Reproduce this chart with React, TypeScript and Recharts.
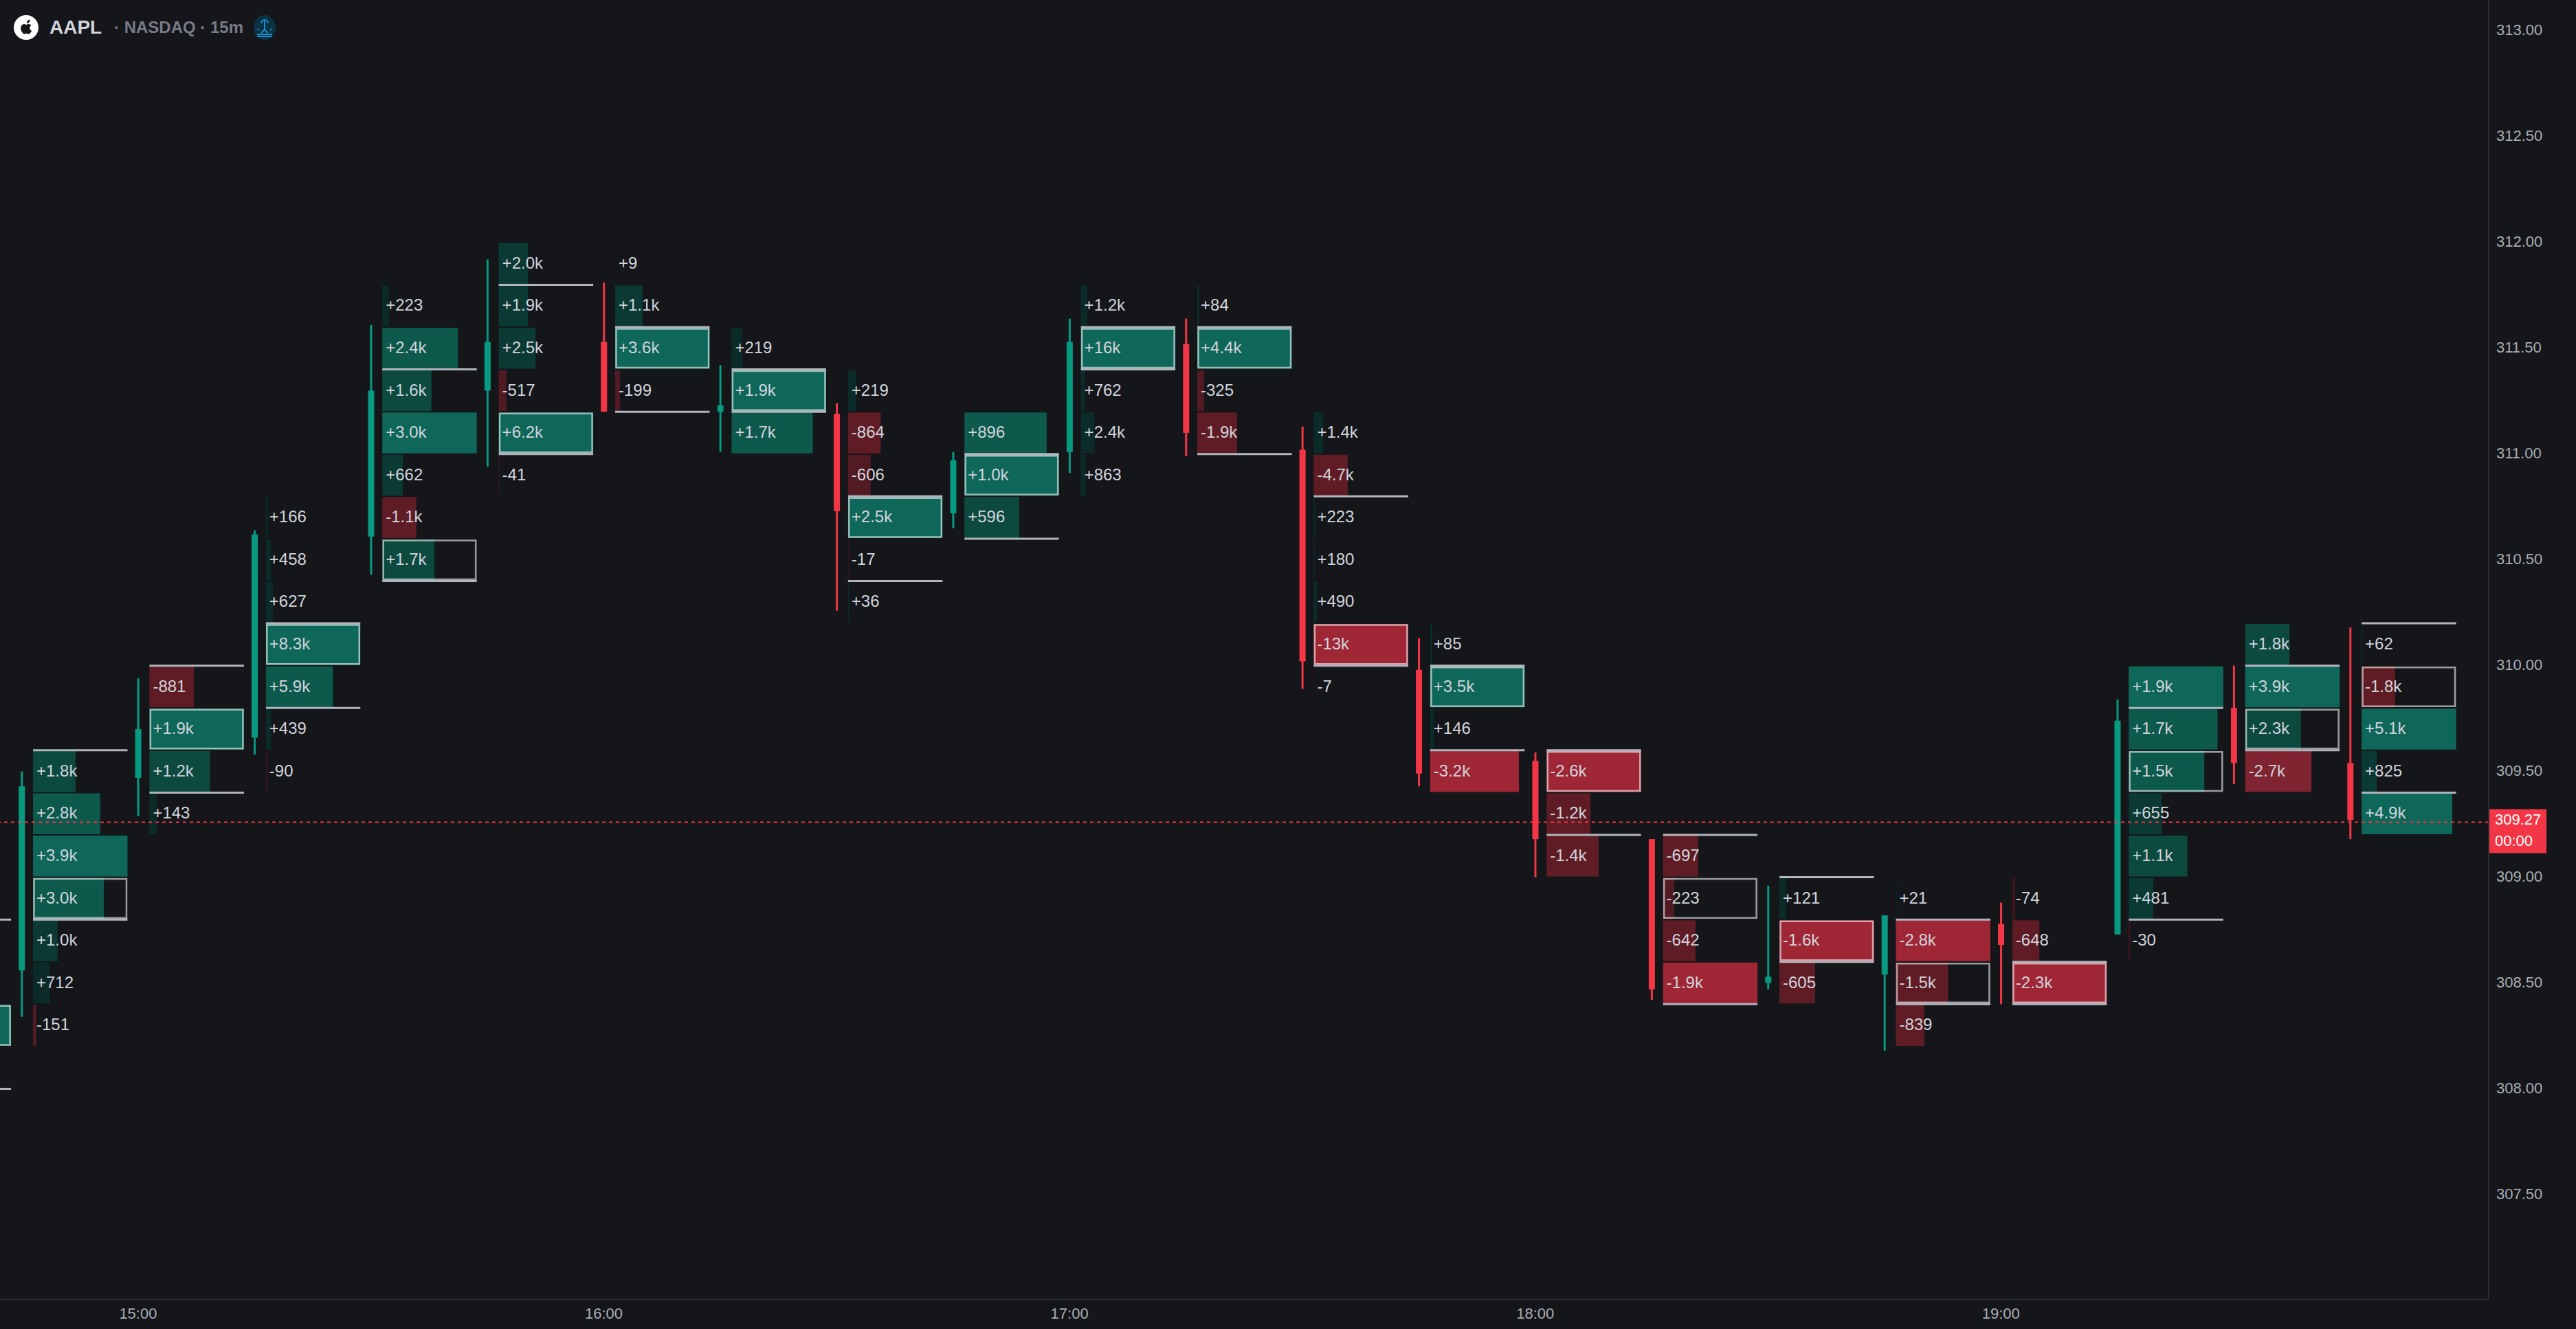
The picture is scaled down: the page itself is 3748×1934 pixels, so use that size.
import { Bar, ComposedChart, ReferenceArea, ReferenceLine, Scatter, XAxis, YAxis } from 'recharts'

const FONT = '"Liberation Sans", Arial, sans-serif'
const WIDTH = 3748
const HEIGHT = 1934
const AXIS_RIGHT = 127
const AXIS_BOTTOM = 43

const BG = '#14161a'
const BORDER = '#2a2c32'
const UP = '#089981'
const DOWN = '#f23645'
const CELL_TEXT = '#d1d4dc'
const AXIS_TEXT = '#aaadb5'
const GREEN_TONES = ['#0a2b28', '#0a3a33', '#0c4a40', '#0d5a4d', '#0f675a']
const RED_TONES = ['#3f141b', '#521a22', '#601c25', '#7f2430', '#9f2635']

// 14:30 is only a sliver at the left edge of the chart, so it has no candle
const barTimes = ['14:30', '14:45', '15:00', '15:15', '15:30', '15:45', '16:00', '16:15', '16:30', '16:45', '17:00', '17:15', '17:30', '17:45', '18:00', '18:15', '18:30', '18:45', '19:00', '19:15', '19:30', '19:45']
const opens = [null, 308.56, 309.47, 309.66, 310.61, 311.3, 311.53, 311.2, 311.19, 310.72, 311.01, 311.52, 311.02, 309.98, 309.55, 309.18, 308.5, 308.54, 308.78, 308.73, 309.8, 309.54]
const highs = [null, 309.5, 309.94, 310.64, 311.61, 311.92, 311.81, 311.42, 311.24, 311.01, 311.64, 311.64, 311.13, 310.13, 309.59, 309.18, 308.96, 308.82, 308.88, 309.84, 310.0, 310.18]
const lows = [null, 308.34, 309.29, 309.58, 310.43, 310.94, 311.2, 311.01, 310.26, 310.65, 310.91, 310.99, 309.89, 309.43, 309.0, 308.42, 308.47, 308.18, 308.4, 308.73, 309.44, 309.18]
const closes = [null, 309.43, 309.7, 310.62, 311.3, 311.53, 311.2, 311.23, 310.73, 310.97, 311.53, 311.1, 310.02, 309.49, 309.18, 308.47, 308.53, 308.82, 308.68, 309.74, 309.54, 309.27]

const topRows = [308.3, 309.5, 309.9, 310.7, 311.7, 311.9, 311.9, 311.5, 311.3, 311.1, 311.7, 311.7, 311.1, 310.1, 309.5, 309.1, 308.9, 308.9, 308.9, 309.9, 310.1, 310.1]
const deltas = [
    ['+'],
    ['+1.8k', '+2.8k', '+3.9k', '+3.0k', '+1.0k', '+712', '-151'],
    ['-881', '+1.9k', '+1.2k', '+143'],
    ['+166', '+458', '+627', '+8.3k', '+5.9k', '+439', '-90'],
    ['+223', '+2.4k', '+1.6k', '+3.0k', '+662', '-1.1k', '+1.7k'],
    ['+2.0k', '+1.9k', '+2.5k', '-517', '+6.2k', '-41'],
    ['+9', '+1.1k', '+3.6k', '-199'],
    ['+219', '+1.9k', '+1.7k'],
    ['+219', '-864', '-606', '+2.5k', '-17', '+36'],
    ['+896', '+1.0k', '+596'],
    ['+1.2k', '+16k', '+762', '+2.4k', '+863'],
    ['+84', '+4.4k', '-325', '-1.9k'],
    ['+1.4k', '-4.7k', '+223', '+180', '+490', '-13k', '-7'],
    ['+85', '+3.5k', '+146', '-3.2k'],
    ['-2.6k', '-1.2k', '-1.4k'],
    ['-697', '-223', '-642', '-1.9k'],
    ['+121', '-1.6k', '-605'],
    ['+21', '-2.8k', '-1.5k', '-839'],
    ['-74', '-648', '-2.3k'],
    ['+1.9k', '+1.7k', '+1.5k', '+655', '+1.1k', '+481', '-30'],
    ['+1.8k', '+3.9k', '+2.3k', '-2.7k'],
    ['+62', '-1.8k', '+5.1k', '+825', '+4.9k'],
]
// share of the bar's biggest row
const volumes = [
    [1],
    [0.45, 0.71, 1, 0.75, 0.26, 0.18, 0.037],
    [0.47, 1, 0.64, 0.076],
    [0.02, 0.055, 0.075, 1, 0.71, 0.055, 0.012],
    [0.07, 0.8, 0.52, 1, 0.22, 0.36, 0.55],
    [0.31, 0.31, 0.39, 0.08, 1, 0.008],
    [0.002, 0.29, 1, 0.05],
    [0.115, 1, 0.86],
    [0.087, 0.345, 0.24, 1, 0.007, 0.012],
    [0.87, 1, 0.58],
    [0.07, 1, 0.044, 0.143, 0.05],
    [0.02, 1, 0.073, 0.42],
    [0.1, 0.36, 0.017, 0.01, 0.036, 1, 0.002],
    [0.022, 1, 0.04, 0.94],
    [1, 0.465, 0.55],
    [0.373, 0.12, 0.344, 1],
    [0.073, 1, 0.376],
    [0.007, 1, 0.553, 0.3],
    [0.03, 0.286, 1],
    [1, 0.94, 0.8, 0.35, 0.62, 0.26, 0.017],
    [0.47, 1, 0.59, 0.7],
    [0.01, 0.355, 1, 0.16, 0.96],
]
// imbalance strength of each row, 1 to 5
const strengths = [
    [5],
    [3, 4, 5, 4, 2, 1, 2],
    [3, 5, 3, 1],
    [1, 1, 1, 5, 4, 1, 1],
    [1, 4, 3, 5, 2, 3, 3],
    [2, 2, 2, 2, 5, 1],
    [1, 2, 5, 2],
    [1, 5, 4],
    [1, 3, 2, 5, 1, 1],
    [4, 5, 3],
    [1, 5, 1, 1, 1],
    [1, 5, 2, 3],
    [1, 3, 1, 1, 1, 5, 1],
    [1, 5, 1, 5],
    [5, 3, 3],
    [3, 2, 3, 5],
    [1, 5, 3],
    [1, 5, 3, 3],
    [1, 3, 5],
    [5, 4, 4, 2, 3, 2, 1],
    [3, 5, 3, 4],
    [1, 3, 5, 2, 5],
]
const pocRows = [0, 3, 1, 3, 6, 4, 2, 1, 3, 1, 1, 1, 5, 1, 0, 1, 1, 2, 2, 2, 2, 1]
const valueAreaHigh = [308.8, 309.6, 310.0, 310.2, 311.4, 311.8, 311.6, 311.4, 310.8, 311.0, 311.6, 311.6, 310.8, 310.0, 309.6, 309.2, 309.0, 308.8, 308.6, 309.8, 310.0, 310.2]
const valueAreaLow = [308.0, 308.8, 309.4, 309.8, 310.4, 311.0, 311.2, 311.2, 310.4, 310.6, 311.4, 311.0, 310.0, 309.6, 309.2, 308.4, 308.6, 308.4, 308.4, 308.8, 309.6, 309.4]

const priceTicks = [307.5, 308, 308.5, 309, 309.5, 310, 310.5, 311, 311.5, 312, 312.5, 313]
const timeTicks = [900, 960, 1020, 1080, 1140]
const lastPrice = 309.26
const lastPriceLabel = '309.27'
const countdown = '00:00'

const X_DOMAIN = [882.21, 1202.84]
const Y_DOMAIN = [307.0047, 313.1457]
const PX_PER_MIN = (WIDTH - AXIS_RIGHT) / (X_DOMAIN[1] - X_DOMAIN[0])
const PX_PER_USD = (HEIGHT - AXIS_BOTTOM) / (Y_DOMAIN[1] - Y_DOMAIN[0])
const CELL_OFFSET = 16.5 / PX_PER_MIN
const CELL_WIDTH = 137.5 / PX_PER_MIN
const ROW = 0.2

const toMinute = (t: string) => Number(t.slice(0, 2)) * 60 + Number(t.slice(3))
const pad = (n: number) => String(n).padStart(2, '0')
const formatTime = (m: number) => `${pad(Math.floor(m / 60))}:${pad(m % 60)}`

const candles = barTimes.flatMap((time, i) => {
    const open = opens[i]
    const close = closes[i]
    const high = highs[i]
    const low = lows[i]
    if (open === null || close === null || high === null || low === null) return []
    return [{ minute: toMinute(time), open, close, high, low, range: [low, high] }]
})

const cells = barTimes.flatMap((time, i) =>
    deltas[i].map((delta, r) => {
        const start = toMinute(time) + CELL_OFFSET
        const price = topRows[i] - r * ROW
        const tones = delta.startsWith('-') ? RED_TONES : GREEN_TONES
        return {
            key: `${time}-${r}`,
            minute: start,
            price,
            delta: delta.length > 1 ? delta : '',
            end: start + CELL_WIDTH * volumes[i][r],
            fullEnd: start + CELL_WIDTH,
            fill: tones[strengths[i][r] - 1],
            poc: pocRows[i] === r,
        }
    })
)

const valueLines = barTimes.flatMap((time, i) => {
    const start = toMinute(time) + CELL_OFFSET
    return [valueAreaHigh[i], valueAreaLow[i]].map((price, k) => ({ key: `${time}-${k}`, start, end: start + CELL_WIDTH, price }))
})

function CandleShape(props: any) {
    const { x, y, width, height, payload } = props
    const { open, close, high, low } = payload
    const color = close >= open ? UP : DOWN
    const perUnit = height / (high - low)
    const bodyTop = y + (high - Math.max(open, close)) * perUnit
    const bodyHeight = Math.max(Math.abs(open - close) * perUnit, 2)
    const mid = x + width / 2
    return (
        <g>
            <rect x={mid - 1.5} y={y} width={3} height={height} fill={color} />
            <rect x={x} y={bodyTop} width={width} height={bodyHeight} fill={color} />
        </g>
    )
}

function DeltaLabel(props: any) {
    const { cx, cy, payload } = props
    return (
        <text x={cx + 5} y={cy} dy="0.3em" fontFamily={FONT} fontSize={24} fill={CELL_TEXT}>
            {payload.delta}
        </text>
    )
}

function PriceTick(props: any) {
    const { x, y, payload } = props
    if (payload.value === lastPrice) {
        return (
            <g fontFamily={FONT} fontSize={22} fill="#ffffff">
                <rect x={3622} y={y - 19} width={83} height={64} fill={DOWN} />
                <text x={3630} y={y - 4} dy="0.36em">{lastPriceLabel}</text>
                <text x={3630} y={y + 27} dy="0.36em">{countdown}</text>
            </g>
        )
    }
    return (
        <text x={x} y={y} dy="0.3em" fontFamily={FONT} fontSize={22} fill={AXIS_TEXT}>
            {payload.value.toFixed(2)}
        </text>
    )
}

function Header() {
    return (
        <div style={{ position: 'absolute', left: 0, top: 0, width: 500, height: 80, fontFamily: FONT, fontWeight: 'bold' }}>
            <svg width={40} height={40} viewBox="0 0 40 40" style={{ position: 'absolute', left: 18, top: 20 }}>
                <circle cx={20} cy={20} r={18} fill="#ffffff" />
                <path
                    d="M24.4 12.2c.9-1.1 1.5-2.4 1.3-3.8-1.3.1-2.7.9-3.6 1.9-.8.9-1.4 2.2-1.2 3.5 1.4.1 2.7-.6 3.5-1.6zM27.6 24.5c-.6-.3-2.3-1.5-2.3-3.9 0-2.3 1.7-3.4 2.1-3.6-1.1-1.7-2.9-1.9-3.5-2-1.5-.1-2.9.9-3.6.9-.8 0-1.9-.9-3.2-.9-1.6 0-3.1 1-4 2.4-1.7 3-.4 7.3 1.2 9.7.8 1.2 1.8 2.5 3.1 2.4 1.2-.1 1.7-.8 3.2-.8s1.9.8 3.2.8c1.3 0 2.2-1.2 3-2.4.6-.9.9-1.4 1.3-2.6z"
                    fill="#14161a"
                />
            </svg>
            <span style={{ position: 'absolute', left: 72, top: 24, fontSize: 28, lineHeight: '32px', color: '#d1d4dc' }}>AAPL</span>
            <span style={{ position: 'absolute', left: 166, top: 25, fontSize: 24, lineHeight: '30px', color: '#787b86' }}>· NASDAQ · 15m</span>
            <svg width={32} height={36} viewBox="0 0 32 36" style={{ position: 'absolute', left: 369, top: 22 }}>
                <ellipse cx={16} cy={18} rx={16} ry={18} fill="#0c3044" />
                <g stroke="#1593d0" strokeWidth={2} fill="none">
                    <path d="M16 20V8M11 12a5 5 0 0 1 10 0" />
                    <path d="M6 20l2 2M26 20l-2 2M11 26l5-5 5 5" />
                    <path d="M5 28h22M5 31h22" />
                </g>
            </svg>
        </div>
    )
}

export default function App() {
    return (
        <div style={{ position: 'fixed', left: 0, top: 0, width: WIDTH, height: HEIGHT, background: BG, overflow: 'hidden' }}>
            <ComposedChart width={WIDTH} height={HEIGHT} data={candles} margin={{ top: 0, right: 0, bottom: 0, left: 0 }}>
                <XAxis
                    type="number"
                    dataKey="minute"
                    scale="linear"
                    domain={X_DOMAIN}
                    allowDataOverflow
                    ticks={timeTicks}
                    tickFormatter={formatTime}
                    height={AXIS_BOTTOM}
                    stroke={BORDER}
                    strokeWidth={2}
                    tickLine={false}
                    tickMargin={6}
                    tick={{ fontFamily: FONT, fontSize: 22, fill: AXIS_TEXT }}
                />
                <YAxis
                    type="number"
                    dataKey="price"
                    orientation="right"
                    scale="linear"
                    domain={Y_DOMAIN}
                    allowDataOverflow
                    ticks={[...priceTicks, lastPrice]}
                    interval={0}
                    width={AXIS_RIGHT}
                    stroke={BORDER}
                    strokeWidth={2}
                    tickLine={false}
                    tickSize={0}
                    tickMargin={11}
                    tick={<PriceTick />}
                />
                {cells.map((c) => (
                    <ReferenceArea
                        key={c.key}
                        x1={c.minute}
                        x2={c.end}
                        y1={c.price - ROW / 2 + 1 / PX_PER_USD}
                        y2={c.price + ROW / 2 - 1 / PX_PER_USD}
                        fill={c.fill}
                        fillOpacity={1}
                        stroke="none"
                        ifOverflow="visible"
                    />
                ))}
                {cells.filter((c) => c.poc).map((c) => (
                    <ReferenceArea
                        key={`box-${c.key}`}
                        x1={c.minute + 1.5 / PX_PER_MIN}
                        x2={c.fullEnd - 1.5 / PX_PER_MIN}
                        y1={c.price - ROW / 2 + 2.5 / PX_PER_USD}
                        y2={c.price + ROW / 2 - 2.5 / PX_PER_USD}
                        fill="none"
                        stroke="#ffffff"
                        strokeOpacity={0.58}
                        strokeWidth={2.5}
                        ifOverflow="visible"
                    />
                ))}
                {valueLines.map((l) => (
                    <ReferenceLine
                        key={l.key}
                        segment={[{ x: l.start, y: l.price }, { x: l.end, y: l.price }]}
                        stroke="#b2b5be"
                        strokeWidth={3}
                        ifOverflow="visible"
                    />
                ))}
                <ReferenceLine y={lastPrice} stroke={DOWN} strokeWidth={2} strokeDasharray="5 5" ifOverflow="visible" />
                <Bar dataKey="range" barSize={9} shape={<CandleShape />} isAnimationActive={false} />
                <Scatter data={cells} dataKey="price" shape={<DeltaLabel />} isAnimationActive={false} />
            </ComposedChart>
            <Header />
        </div>
    )
}
